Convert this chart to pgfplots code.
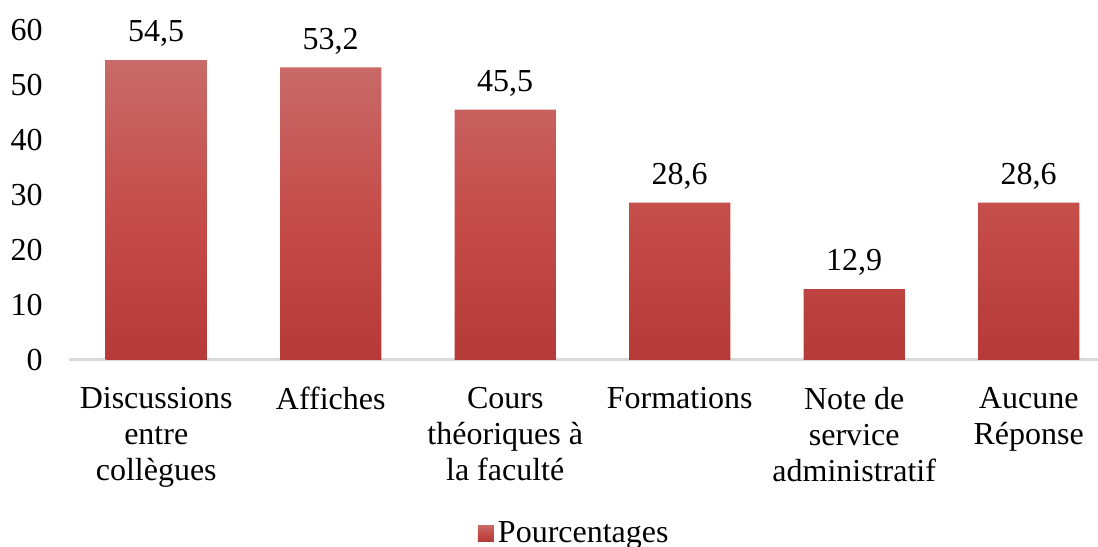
\documentclass[border=0pt]{standalone}
\usepackage{fontspec}
\setmainfont{Liberation Serif}
\usepackage{pgfplots}
\pgfplotsset{compat=1.18}

\definecolor{bartop}{HTML}{C86B69}
\definecolor{barmid}{HTML}{C54D4A}
\definecolor{barbot}{HTML}{B53A38}
\definecolor{baseline}{HTML}{D9D9D9}

\begin{document}
\begin{tikzpicture}
\begin{axis}[
    name=ax,
    scale only axis,
    width=514.5pt, height=165pt,
    font=\fontsize{16}{18}\selectfont,
    xmin=-0.5, xmax=5.397,
    ymin=0, ymax=60,
    ytick={0,10,20,30,40,50,60},
    xtick={0,1,2,3,4,5},
    xticklabels={{Discussions\\entre\\collègues}, Affiches, {Cours\\théoriques à\\la faculté}, Formations, {Note de\\service\\administratif}, {Aucune\\Réponse}},
    xticklabel style={align=center, inner sep=0pt, yshift=-13.5pt},
    yticklabel style={inner sep=0pt, xshift=-13pt},
    axis x line=bottom, axis y line=left,
    y axis line style={draw=none},
    x axis line style={-, draw=baseline, line width=1.5pt},
    tick style={draw=none},
    major tick length=0pt,
    /pgf/number format/assume math mode=true,
    /pgf/number format/use comma,
    ybar, bar width=0.579,
    nodes near coords,
    nodes near coords style={anchor=south, inner sep=0pt, yshift=6.5pt},
    legend style={at={(0.492,-0.525)}, anchor=center, draw=none, fill=none, inner sep=0pt},
    legend image code/.code={\shade[top color=bartop, bottom color=barbot, middle color=barmid] (-2.5pt,-4pt) rectangle (5.5pt,4pt);},
]
\addplot[draw=none, top color=bartop, bottom color=barbot, middle color=barmid]
    coordinates {(0,54.5) (1,53.2) (2,45.5) (3,28.6) (4,12.9) (5,28.6)};
\addlegendentry{Pourcentages}
\end{axis}
\pgfresetboundingbox
\path (ax.south west) ++(-34.5pt,-93.5pt) rectangle (ax.north east) ++(0pt,15pt);
\end{tikzpicture}
\end{document}
